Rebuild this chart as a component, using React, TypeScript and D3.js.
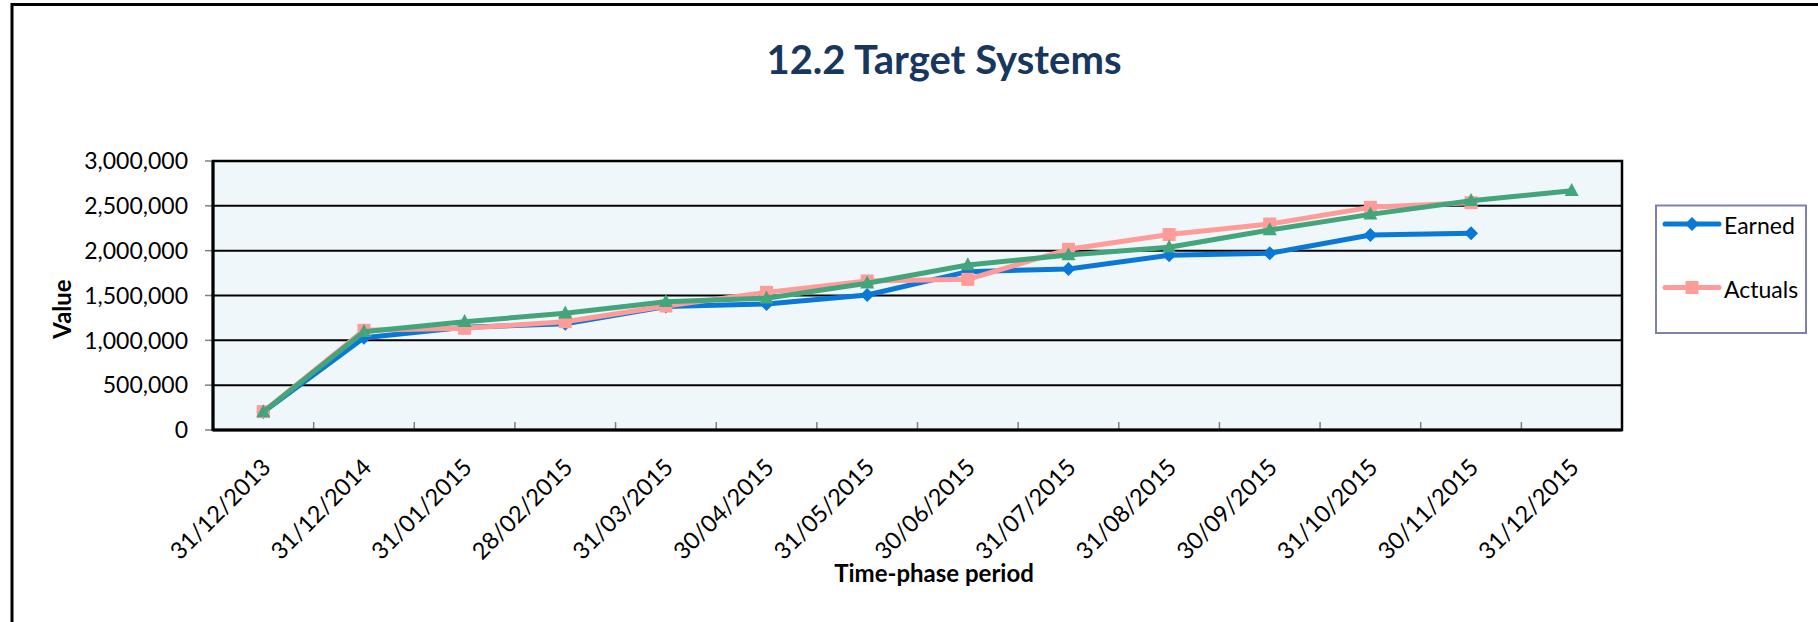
import React from "react";
import * as d3 from "d3";

const categories = [
  "31/12/2013", "31/12/2014", "31/01/2015", "28/02/2015", "31/03/2015",
  "30/04/2015", "31/05/2015", "30/06/2015", "31/07/2015", "31/08/2015",
  "30/09/2015", "31/10/2015", "30/11/2015", "31/12/2015",
];

const earned: (number | null)[] = [
  200000, 1030000, 1145000, 1185000, 1378000, 1405000, 1506000,
  1766000, 1796000, 1948000, 1970000, 2175000, 2193000, null,
];

const actuals: (number | null)[] = [
  205000, 1112000, 1134000, 1208000, 1383000, 1535000, 1662000,
  1680000, 2015000, 2180000, 2297000, 2483000, 2535000, null,
];

const planned: (number | null)[] = [
  200000, 1096000, 1208000, 1301000, 1431000, 1469000, 1636000,
  1840000, 1952000, 2038000, 2230000, 2405000, 2557000, 2669000,
];

const yTicks = [0, 500000, 1000000, 1500000, 2000000, 2500000, 3000000];

const title = "12.2 Target Systems";
const xTitle = "Time-phase period";
const yTitle = "Value";

const W = 1818;
const H = 622;
const plot = { left: 213, right: 1622, top: 161, bottom: 430 };

const BLUE = "#0A78D6";
const PINK = "#FF9B98";
const GREEN = "#43A57B";
const FONT = "Lato, 'Open Sans', sans-serif";

type Series = { name: string; values: (number | null)[]; color: string; marker: string; legend: boolean };

const seriesList: Series[] = [
  { name: "Earned", values: earned, color: BLUE, marker: "diamond", legend: true },
  { name: "Actuals", values: actuals, color: PINK, marker: "square", legend: true },
  { name: "Planned", values: planned, color: GREEN, marker: "triangle", legend: false },
];

function Marker({ kind, x, y, color }: { kind: string; x: number; y: number; color: string }) {
  if (kind === "diamond") {
    const r = 7;
    return <path d={`M${x},${y - r}L${x + r},${y}L${x},${y + r}L${x - r},${y}Z`} fill={color} />;
  }
  if (kind === "square") {
    const s = 13;
    return <rect x={x - s / 2} y={y - s / 2} width={s} height={s} fill={color} />;
  }
  const w = 14, h = 13;
  return <path d={`M${x},${y - h * 0.6}L${x + w / 2},${y + h * 0.4}L${x - w / 2},${y + h * 0.4}Z`} fill={color} />;
}

export default function App() {
  const x = d3.scaleBand<string>().domain(categories).range([plot.left, plot.right]).padding(0);
  const y = d3.scaleLinear().domain([0, 3000000]).range([plot.bottom, plot.top]);
  const fmt = d3.format(",");
  const cx = (c: string) => (x(c) as number) + x.bandwidth() / 2;

  const line = d3
    .line<[string, number | null]>()
    .defined((d) => d[1] !== null)
    .x((d) => cx(d[0]))
    .y((d) => y(d[1] as number));

  const boundaries = d3.range(1, categories.length).map((i) => plot.left + i * x.bandwidth());

  return (
    <svg
      width={W}
      height={H}
      style={{ position: "absolute", left: 0, top: 0, background: "#fff" }}
      fontFamily={FONT}
    >
      {/* outer frame */}
      <rect x={12} y={4.5} width={3000} height={2000} fill="none" stroke="#000" strokeWidth={3} />

      {/* title */}
      <text x={944} y={73.5} textAnchor="middle" fontSize={40} fontWeight="bold" fill="#17375E">
        {title}
      </text>

      {/* plot background */}
      <rect x={plot.left} y={plot.top} width={plot.right - plot.left} height={plot.bottom - plot.top} fill="#EFF7FA" />

      {/* gridlines */}
      {yTicks.map((t) => (
        <line key={`g${t}`} x1={plot.left} x2={plot.right} y1={y(t)} y2={y(t)} stroke="#000" strokeWidth={2} />
      ))}

      {/* y ticks and labels */}
      {yTicks.map((t) => (
        <g key={`y${t}`}>
          <line x1={plot.left - 8} x2={plot.left} y1={y(t)} y2={y(t)} stroke="#808080" strokeWidth={1.5} />
          <text x={188} y={y(t)} dy="0.36em" textAnchor="end" fontSize={23} fill="#000">
            {fmt(t)}
          </text>
        </g>
      ))}

      {/* x ticks (inside) */}
      {boundaries.map((bx, i) => (
        <line key={`xt${i}`} x1={bx} x2={bx} y1={plot.bottom} y2={plot.bottom - 8} stroke="#808080" strokeWidth={1.5} />
      ))}

      {/* plot border */}
      <rect
        x={plot.left}
        y={plot.top}
        width={plot.right - plot.left}
        height={plot.bottom - plot.top}
        fill="none"
        stroke="#000"
        strokeWidth={2.5}
      />
      <line x1={plot.left} x2={plot.left} y1={plot.top} y2={plot.bottom + 1} stroke="#000" strokeWidth={3} />
      <line x1={plot.left} x2={plot.right} y1={plot.bottom} y2={plot.bottom} stroke="#000" strokeWidth={3} />

      {/* x labels */}
      {categories.map((c) => (
        <text
          key={`xl${c}`}
          transform={`translate(${cx(c) + 3},${463}) rotate(-45)`}
          textAnchor="end"
          dy="0.35em"
          fontSize={23.5}
          fill="#000"
        >
          {c}
        </text>
      ))}

      {/* series */}
      {seriesList.map((s) => {
        const pts = categories.map((c, i) => [c, s.values[i]] as [string, number | null]);
        return (
          <g key={s.name}>
            <path d={line(pts) || ""} fill="none" stroke={s.color} strokeWidth={5} strokeLinejoin="round" />
            {pts
              .filter((p) => p[1] !== null)
              .map((p) => (
                <Marker key={p[0]} kind={s.marker} x={cx(p[0])} y={y(p[1] as number)} color={s.color} />
              ))}
          </g>
        );
      })}

      {/* axis titles */}
      <text x={934} y={581.5} textAnchor="middle" fontSize={24} fontWeight="bold" fill="#000">
        {xTitle}
      </text>
      <text
        transform={`translate(${63},${309}) rotate(-90)`}
        textAnchor="middle"
        dy="0.35em"
        fontSize={24}
        fontWeight="bold"
        fill="#000"
      >
        {yTitle}
      </text>

      {/* legend */}
      <rect x={1656} y={205.5} width={150} height={127.5} fill="#fff" stroke="#8080B0" strokeWidth={2} />
      {seriesList
        .filter((s) => s.legend)
        .map((s, i) => {
          const ly = 224 + i * 63.5;
          return (
            <g key={`lg${s.name}`}>
              <line x1={1665} x2={1719} y1={ly} y2={ly} stroke={s.color} strokeWidth={5} strokeLinecap="round" />
              <Marker kind={s.marker} x={1692} y={ly} color={s.color} />
              <text x={1724} y={ly + 2} dy="0.36em" fontSize={23} fill="#000">
                {s.name}
              </text>
            </g>
          );
        })}
    </svg>
  );
}
